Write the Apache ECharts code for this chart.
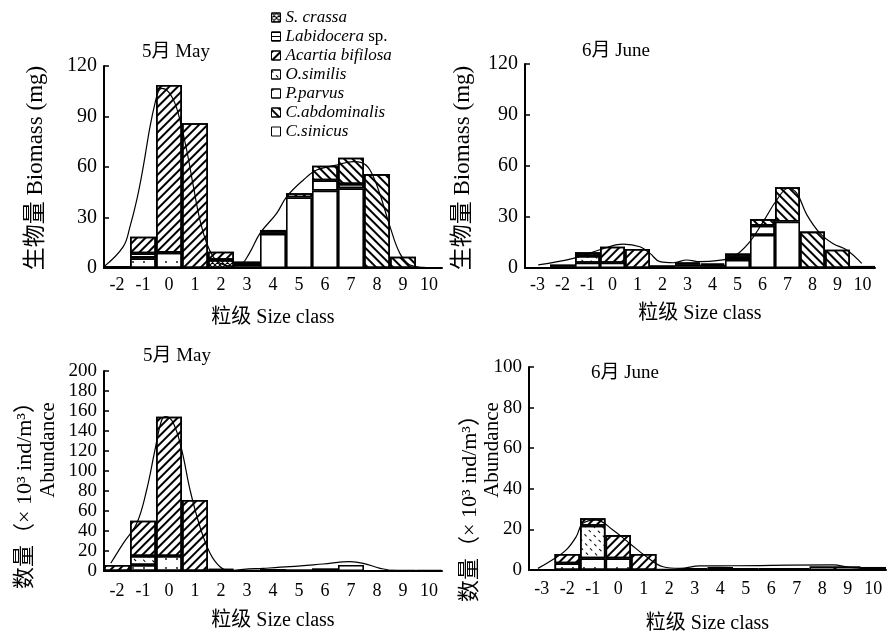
<!DOCTYPE html>
<html><head><meta charset="utf-8">
<script src="https://cdn.jsdelivr.net/npm/echarts@6/dist/echarts.min.js"></script>
<style>html,body{margin:0;padding:0;background:#fff}#c{width:887px;height:638px}</style>
</head><body><div id="c"></div>
<script>
// ---------- categories ----------
const sizeMay = ['-2','-1','0','1','2','3','4','5','6','7','8','9','10'];
const sizeJune = ['-3','-2','-1','0','1','2','3','4','5','6','7','8','9','10'];
const species = ['C.sinicus','P.parvus','S. crassa','O.similis','Labidocera sp.','Acartia bifilosa','C.abdominalis'];
const legendOrder = ['S. crassa','Labidocera sp.','Acartia bifilosa','O.similis','P.parvus','C.abdominalis','C.sinicus'];
const ticksBio = [0,120,30];
const ticksAbMay = [0,200,20];
const ticksAbJune = [0,100,20];

// ---------- May biomass (mg) ----------
const bioMaySinicus   = [0,0,0,0,0,1,20.2,42,46,47.3,0,0,0];
const bioMayParvus    = [0,5.7,9.1,0,0,0,0,0,6,2.6,0,0,0];
const bioMayCrassa    = [0,0,0,0,4.8,1.3,0,0,0,0,0,0,0];
const bioMaySimilis   = [0,0,0,0,0,0,0,0,0,0,0,0,0];
const bioMayLabid     = [0,3,0,0,0,0,1,0,0,0,0,0,0];
const bioMayAcartia   = [1.2,9.9,99.6,86,4.9,1.5,0,0,0,0,0,0,0];
const bioMayAbdom     = [0,0,0,0,0,0,1.4,2.4,8.8,15.6,55.8,6.7,0];
const curveBioMay = [[-2.5,0.8],[-1.76,12.7],[-1.5,24.6],[-1.24,40.4],[-0.99,60.2],[-0.73,84],[-0.54,97.8],[-0.41,104.8],[-0.28,106.7],[-0.03,104.8],[0.23,97.8],[0.42,88],[0.68,70.1],[0.94,48.3],[1.19,28.5],[1.45,14.7],[1.7,6.7],[1.96,2.8],[2.35,1.2],[2.73,1.8],[3.1,9],[3.5,20.6],[4.14,32.5],[4.53,42.4],[5.17,52.3],[5.68,58.2],[6.45,61.2],[7.09,63.2],[7.41,62.6],[7.73,58.2],[8.1,44.4],[8.5,24.6],[8.88,8.7],[9.27,1.8],[9.78,0.4],[10.42,0]];

// ---------- June biomass (mg) ----------
const bioJunSinicus   = [0,0,3.1,3.1,0,0,1,0.8,4.7,19.4,27.3,0,0,0];
const bioJunParvus    = [0,1,0,0,0,0,0,0,1.9,5.5,0,0,0,0];
const bioJunCrassa    = [0,1,0,0,0,1.5,1,1,0,0,0,0,0,0];
const bioJunSimilis   = [0,0,4,0,0,0,0,0,0,0,0,0,0,0];
const bioJunLabid     = [0,0,0,0,0,0,0,0,0,0,0,0,0,0];
const bioJunAcartia   = [0,0,2.1,9.4,11.2,0,1.3,0.9,0,0,0,0,0,0];
const bioJunAbdom     = [0,0,0,0,0,0,0,0,2,3.9,20.2,21.4,10.8,1.2];
const curveBioJune = [[-2.97,1.8],[-1.57,5.7],[-0.54,10.6],[0.43,14.1],[1.1,12.5],[1.5,8.6],[1.9,3.7],[2.43,3.1],[2.97,4.7],[3.5,3.7],[4.17,4.3],[4.83,6.6],[5.43,14.3],[6.03,27.3],[6.57,40],[7.03,46.9],[7.37,44],[7.77,31.4],[8.3,20.4],[8.83,14.3],[9.37,10.6],[9.97,2.7]];

// ---------- May abundance (x10^3 ind/m^3) ----------
const abMaySinicus    = [0,0,0,0,0,1,2,1.7,2.7,6,0.5,1,1];
const abMayParvus     = [0,6,15,0,0,0,0,0,0,0,0,0,0];
const abMayCrassa     = [0,0,0,0,1,0,0,0,0,0,0,0,0];
const abMaySimilis    = [0,9,0,0,0,0,0,0,0,0,0,0,0];
const abMayLabid      = [0,0,0,0,0,0,0,0,0,0,0,0,0];
const abMayAcartia    = [6,35.3,139.3,71,1,0,0,0,0,0,0,0,0];
const abMayAbdom      = [0,0,0,0,0,0,0,0,0,0,0,0,0];
const curveAbMay = [[-2.24,7.7],[-1.76,27.7],[-1.24,47.7],[-0.86,81],[-0.54,121],[-0.28,151],[-0.12,154.3],[0.17,147.7],[0.49,121],[0.81,81],[1.19,44.3],[1.58,17.7],[1.96,4.3],[2.35,0],[2.86,1.7],[3.63,2.7],[4.65,4.3],[5.93,7],[6.96,9.3],[7.47,7.7],[8.12,2.7],[8.76,0.3],[10.3,0.3]];

// ---------- June abundance ----------
const abJunSinicus    = [0,0,0,0,0,0.5,1,1.5,1,1,1,1.8,1.8,1.5];
const abJunParvus     = [0,3.3,5.7,5.7,0,0,0,0,0,0,0,0,0,0];
const abJunCrassa     = [0,0,0,0,0,0,0,0,0,0,0,0,0,0];
const abJunSimilis    = [0,0,16.1,0,0,0,0,0,0,0,0,0,0,0];
const abJunLabid      = [0,0,0,0,0,0,0,0,0,0,0,0,0,0];
const abJunAcartia    = [0,4.6,3.7,11.5,7.9,0,0,0,0,0,0,0,0,0];
const abJunAbdom      = [0,0,0,0,0,0,0,0,0,0,0,0,0,0];
const curveAbJune = [[-3.15,0.8],[-2.5,5.7],[-2.04,9.9],[-1.65,16.4],[-1.39,23],[-0.86,24.6],[-0.21,19.7],[0.45,13.1],[1.1,6.6],[1.76,1.6],[2.41,0.8],[3.2,2],[4.5,2.1],[8.43,2.5],[9.09,1.3],[10.5,0.8]];

// ---------- build ----------
const FONT = '"Liberation Serif","Times New Roman","Noto Sans CJK SC",serif';
const decals = {
  'C.sinicus': null,
  'P.parvus': {symbol:'circle', symbolSize:0.9, dashArrayX:[2,9], dashArrayY:[2,7], color:'#000'},
  'S. crassa': {symbol:'path://M0 0L1.5 0L10 8.5L10 10L8.5 10L0 1.5ZM8.5 0L10 0L10 1.5L1.5 10L0 10L0 8.5Z', symbolSize:1, dashArrayX:[5,0], dashArrayY:[5,0], color:'#000'},
  'O.similis': {symbol:'rect', symbolSize:1, dashArrayX:[3,4], dashArrayY:[1,5], rotation:Math.PI/4, color:'#000'},
  'Labidocera sp.': {symbol:'rect', symbolSize:1, dashArrayX:[1,0], dashArrayY:[1,3], rotation:0, color:'#000'},
  'Acartia bifilosa': {symbol:'rect', symbolSize:1, dashArrayX:[1,0], dashArrayY:[1.2,3.6], rotation:-Math.PI/4, color:'#000'},
  'C.abdominalis': {symbol:'rect', symbolSize:1, dashArrayX:[1,0], dashArrayY:[1.4,4], rotation:Math.PI/4, color:'#000'}
};
const panels = [
  {cats:sizeMay, data:[bioMaySinicus,bioMayParvus,bioMayCrassa,bioMaySimilis,bioMayLabid,bioMayAcartia,bioMayAbdom], curve:curveBioMay, ymax:ticksBio[1], yint:ticksBio[2], ylf:20, grid:{left:104,top:66,width:338,height:202}, nameGap:40, lm:8},
  {cats:sizeJune, data:[bioJunSinicus,bioJunParvus,bioJunCrassa,bioJunSimilis,bioJunLabid,bioJunAcartia,bioJunAbdom], curve:curveBioJune, ymax:ticksBio[1], yint:ticksBio[2], ylf:20, grid:{left:525,top:64,width:350,height:204}, nameGap:36, lm:8},
  {cats:sizeMay, data:[abMaySinicus,abMayParvus,abMayCrassa,abMaySimilis,abMayLabid,abMayAcartia,abMayAbdom], curve:curveAbMay, ymax:ticksAbMay[1], yint:ticksAbMay[2], ylf:19, grid:{left:104,top:371,width:338,height:200}, nameGap:40, lm:11},
  {cats:sizeJune, data:[abJunSinicus,abJunParvus,abJunCrassa,abJunSimilis,abJunLabid,abJunAcartia,abJunAbdom], curve:curveAbJune, ymax:ticksAbJune[1], yint:ticksAbJune[2], ylf:19, grid:{left:529,top:367,width:357,height:203}, nameGap:44, lm:10}
];
const grid=[], xAxis=[], yAxis=[], series=[];
panels.forEach((p,i)=>{
  grid.push(p.grid);
  xAxis.push({type:'category', gridIndex:i, data:p.cats, boundaryGap:true,
    axisLine:{onZero:false, lineStyle:{color:'#000',width:2}}, axisTick:{show:false},
    axisLabel:{color:'#000', fontFamily:FONT, fontSize:18, margin:p.lm, interval:0},
    name:'粒级 Size class', nameLocation:'middle', nameGap:p.nameGap,
    nameTextStyle:{color:'#000', fontFamily:FONT, fontSize:20}});
  yAxis.push({type:'value', gridIndex:i, min:0, max:p.ymax, interval:p.yint,
    axisLine:{show:true, onZero:false, lineStyle:{color:'#000',width:2}},
    axisTick:{show:true, inside:true, length:5, lineStyle:{color:'#000',width:1.5}},
    splitLine:{show:false},
    axisLabel:{color:'#000', fontFamily:FONT, fontSize:p.ylf, margin:7}});
});
panels.forEach((p,i)=>{
  const first = Number(p.cats[0]), last = Number(p.cats[p.cats.length-1]);
  xAxis.push({type:'value', gridIndex:i, min:first-0.5, max:last+0.5, show:false, axisLine:{onZero:false}});
});
panels.forEach((p,i)=>{
  species.forEach((s,k)=>{
    const st = {color:'#fff', borderColor:'#000', borderWidth:1.6};
    if (decals[s]) st.decal = decals[s];
    series.push({type:'bar', name:s, xAxisIndex:i, yAxisIndex:i, stack:'p'+i,
      barCategoryGap:'0%', data:p.data[k].map(v=>v===0?'-':v), itemStyle:st, z:2});
  });
  series.push({type:'line', name:'curve'+i, xAxisIndex:4+i, yAxisIndex:i, data:p.curve,
    smooth:0.4, showSymbol:false, symbol:'none', lineStyle:{color:'#000',width:1.2}, z:5, silent:true});
});

const T = (text,x,y,size,rot)=>({type:'text', x:x, y:y, rotation:rot||0, silent:true,
  style:{text:text, fill:'#000', fontFamily:FONT, fontSize:size, align:'center', verticalAlign:'middle'}});

const chart = echarts.init(document.getElementById('c'), null, {renderer:'canvas'});
chart.setOption({
  animation:false,
  backgroundColor:'#fff',
  grid, xAxis, yAxis, series,
  legend:{data:legendOrder, orient:'vertical', left:266, top:4, itemWidth:9, itemHeight:9, itemGap:2,
    selectedMode:false, icon:'rect',
    itemStyle:{borderColor:'#000', borderWidth:1},
    formatter:n=> n==='Labidocera sp.' ? '{i|Labidocera} {n|sp.}' : '{i|'+n+'}',
    textStyle:{color:'#000', fontFamily:FONT, fontSize:17, lineHeight:17,
      rich:{i:{fontStyle:'italic', fontFamily:FONT, fontSize:17, color:'#000'}, n:{fontStyle:'normal', fontFamily:FONT, fontSize:17, color:'#000'}}}},
  graphic:[
    T('5月 May',176,52,19), T('6月 June',616,51,19), T('5月 May',177,356,19), T('6月 June',625,373,19),
    T('生物量 Biomass (mg)',36,168,23,Math.PI/2),
    T('生物量 Biomass (mg)',463,168,23,Math.PI/2),
    T('数量（× 10³ ind/m³）',25,490,22,Math.PI/2), T('Abundance',48,450,21,Math.PI/2),
    T('数量（× 10³ ind/m³）',470,503,22,Math.PI/2), T('Abundance',492,450,21,Math.PI/2)
  ]
});
</script></body></html>
